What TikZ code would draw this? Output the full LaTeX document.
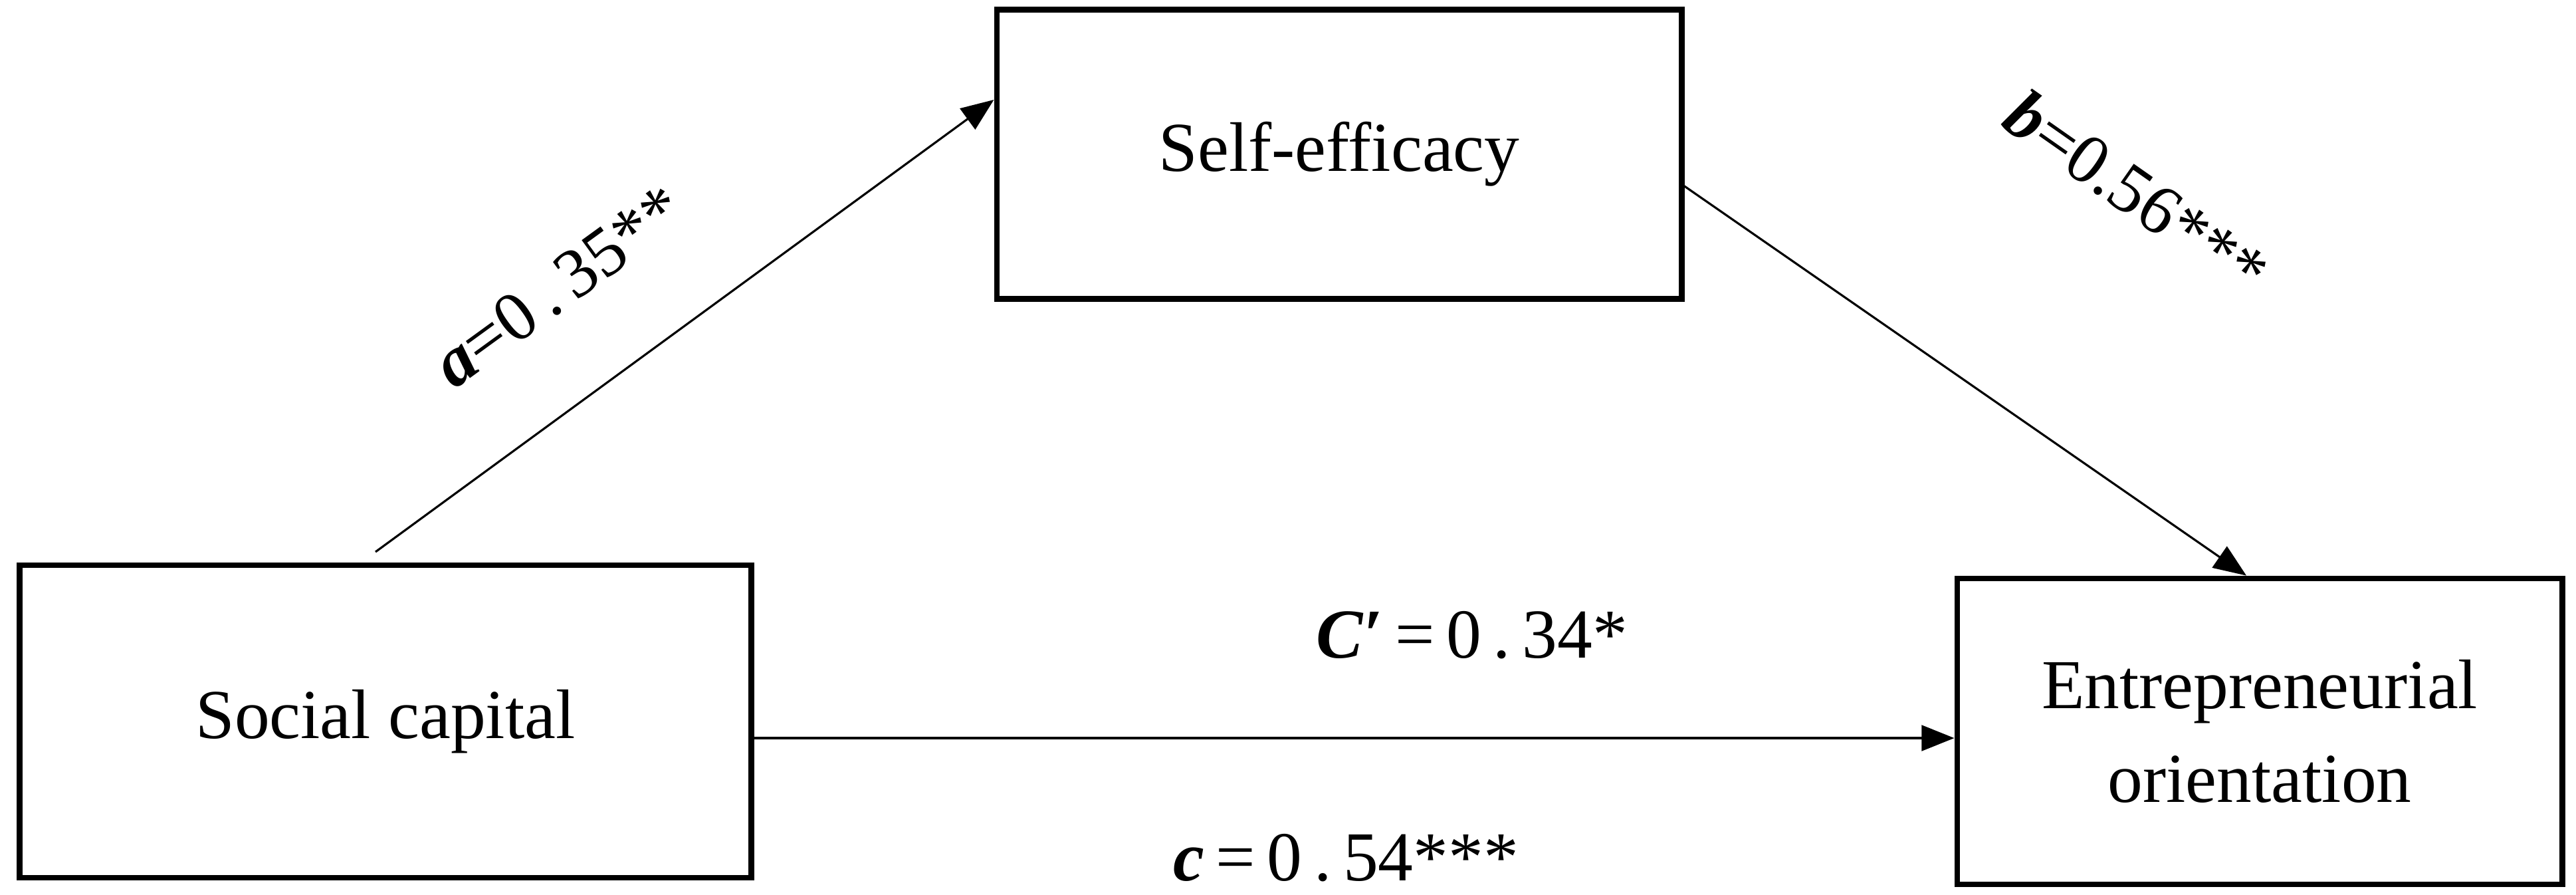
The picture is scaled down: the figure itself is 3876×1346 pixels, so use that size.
\documentclass[tikz,border=0pt]{standalone}
\usepackage{fontspec}
\setmainfont{Liberation Serif}
\usetikzlibrary{arrows.meta}
\begin{document}
\begin{tikzpicture}[x=0.01cm,y=-0.01cm,
  box/.style={draw,line width=2.4pt,inner sep=0pt},
  conn/.style={line width=0.9pt,-{Triangle[length=14pt,width=11pt]}},
  lab/.style={font=\fontsize{30}{40}\selectfont}]
\useasboundingbox (0,0) rectangle (3876,1346);
\node[box,minimum width=10.3cm,minimum height=4.35cm,lab] (se) at (2015,232) {Self-efficacy};
\node[box,minimum width=11cm,minimum height=4.7cm,lab] (sc) at (580,1085) {Social capital};
\node[box,minimum width=9.1cm,minimum height=4.6cm,lab,align=center] (eo) at (3400,1100) {Entrepreneurial\\orientation};
\coordinate (a0) at (565,830);
\draw[conn] (a0) -- (se.west |- 0,150);
\draw[conn] (se.east |- 0,280) -- (eo.north -| 3380,0);
\draw[conn] (sc.east |- 0,1110) -- (eo.west |- 0,1110);
\node[lab,rotate=36] (la) at (840,430) {\textbf{\textit{a}}=0\,.\,35**};
\node[lab,rotate=-35] (lb) at (3215,290) {\textbf{\textit{b}}=0.56***};
\node[lab] (lc1) at (2215,955) {\textbf{\textit{C}′}\,=\,0\,.\,34*};
\node[lab] (lc) at (2025,1290) {\textbf{\textit{c}}\,=\,0\,.\,54***};
\end{tikzpicture}
\end{document}
